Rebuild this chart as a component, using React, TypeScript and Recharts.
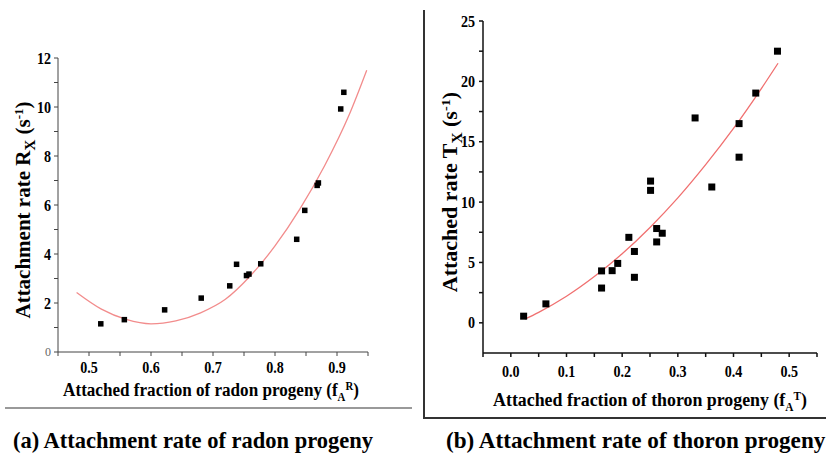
import React from "react";
import { ComposedChart, Scatter, Line, XAxis, YAxis } from "recharts";

document.body.style.margin = "0";

// (a) radon progeny: measured points
const radonFraction = [0.519, 0.557, 0.622, 0.681, 0.727, 0.738, 0.754, 0.758, 0.777, 0.835, 0.848, 0.868, 0.87, 0.906, 0.911];
const radonRate = [1.15, 1.32, 1.72, 2.2, 2.7, 3.58, 3.12, 3.18, 3.6, 4.6, 5.78, 6.8, 6.9, 9.92, 10.6];
// (a) fitted curve
const radonFitX = [0.48, 0.52, 0.56, 0.6, 0.64, 0.68, 0.72, 0.76, 0.8, 0.84, 0.88, 0.92, 0.948];
const radonFitY = [2.43, 1.75, 1.33, 1.15, 1.27, 1.6, 2.15, 3.1, 4.33, 5.83, 7.6, 9.7, 11.5];
const radonXTicks = [0.45, 0.5, 0.55, 0.6, 0.65, 0.7, 0.75, 0.8, 0.85, 0.9, 0.95];
const radonYTicks = [0, 1, 2, 3, 4, 5, 6, 7, 8, 9, 10, 11, 12];

// (b) thoron progeny: measured points
const thoronFraction = [0.023, 0.063, 0.163, 0.163, 0.182, 0.192, 0.212, 0.222, 0.222, 0.251, 0.251, 0.262, 0.262, 0.272, 0.331, 0.361, 0.41, 0.41, 0.44, 0.479];
const thoronRate = [0.55, 1.57, 4.3, 2.88, 4.32, 4.92, 7.08, 5.91, 3.77, 11.74, 10.97, 7.81, 6.7, 7.42, 16.97, 11.25, 16.5, 13.72, 19.03, 22.5];
// (b) fitted curve
const thoronFitX = [0.025, 0.05, 0.1, 0.15, 0.2, 0.25, 0.3, 0.35, 0.4, 0.45, 0.48];
const thoronFitY = [0.3, 0.87, 2.2, 3.83, 5.72, 7.9, 10.35, 13.1, 16.1, 19.4, 21.5];
const thoronXTicks = [-0.05, 0, 0.05, 0.1, 0.15, 0.2, 0.25, 0.3, 0.35, 0.4, 0.45, 0.5, 0.55];
const thoronYTicks = [0, 2.5, 5, 7.5, 10, 12.5, 15, 17.5, 20, 22.5, 25];

const FONT = "'Liberation Serif', 'Times New Roman', serif";

const zip = (xs: number[], ys: number[]) => xs.map((x, i) => ({ x, y: ys[i] }));

const isStep = (v: number, step: number) => Math.abs(v / step - Math.round(v / step)) < 1e-6;

// bold serif text, squeezed/stretched along its baseline by sx
function Txt({ x, y, size, sx = 1, rotate = 0, anchor = "middle", children }: any) {
  return (
    <g transform={`translate(${x} ${y}) rotate(${rotate}) scale(${sx} 1)`}>
      <text x={0} y={0} textAnchor={anchor} fontFamily={FONT} fontWeight="bold" fontSize={size} fill="#000">
        {children}
      </text>
    </g>
  );
}

const xTick = (step: number) => (props: any) => {
  const { x, y, payload } = props;
  if (!isStep(payload.value, step)) return <g />;
  return (
    <Txt x={x} y={y + 14} size={16} sx={0.88}>
      {payload.value.toFixed(1)}
    </Txt>
  );
};

const yTick = (step: number, plainZero = false) => (props: any) => {
  const { x, y, payload } = props;
  if (!isStep(payload.value, step)) return <g />;
  if (plainZero && payload.value === 0) {
    return (
      <text x={x} y={y} dy="0.36em" textAnchor="end" fontFamily={FONT} fontSize={12} fill="#666">
        0
      </text>
    );
  }
  return (
    <Txt x={x} y={y + 5.5} size={16} sx={0.88} anchor="end">
      {payload.value}
    </Txt>
  );
};

const square = (s: number) => (props: any) => (
  <rect x={props.cx - s / 2} y={props.cy - s / 2} width={s} height={s} fill="#000" />
);

export default function App() {
  const radonPts = zip(radonFraction, radonRate);
  const radonFit = zip(radonFitX, radonFitY);
  const thoronPts = zip(thoronFraction, thoronRate);
  const thoronFit = zip(thoronFitX, thoronFitY);

  return (
    <div style={{ position: "relative", width: 826, height: 459, background: "#fff", overflow: "hidden" }}>
      {/* (a) radon */}
      <div style={{ position: "absolute", left: 0, top: 0 }}>
        <ComposedChart width={420} height={400} margin={{ top: 58, right: 52, bottom: 28, left: 28 }}>
          <XAxis
            type="number"
            dataKey="x"
            domain={[0.45, 0.95]}
            ticks={radonXTicks}
            interval={0}
            height={20}
            stroke="#444"
            tickSize={4}
            tickMargin={3}
            tick={xTick(0.1)}
          />
          <YAxis
            type="number"
            dataKey="y"
            domain={[0, 12]}
            ticks={radonYTicks}
            interval={0}
            width={30}
            stroke="#444"
            tickSize={4}
            tickMargin={3}
            tick={yTick(2, true)}
          />
          <Line data={radonFit} dataKey="y" type="monotone" stroke="#f28c8c" strokeWidth={1.3} dot={false} isAnimationActive={false} />
          <Scatter data={radonPts} dataKey="y" shape={square(5.5)} isAnimationActive={false} />
        </ComposedChart>
      </div>

      {/* (b) thoron */}
      <div style={{ position: "absolute", left: 424, top: 0 }}>
        <ComposedChart width={402} height={420} margin={{ top: 21, right: 9, bottom: 42, left: 29 }}>
          <XAxis
            type="number"
            dataKey="x"
            domain={[-0.05, 0.55]}
            ticks={thoronXTicks}
            interval={0}
            height={25}
            stroke="#111"
            strokeWidth={1.5}
            tickSize={4}
            tickMargin={6}
            tick={xTick(0.1)}
          />
          <YAxis
            type="number"
            dataKey="y"
            domain={[-2.5, 25]}
            ticks={thoronYTicks}
            interval={0}
            width={30}
            stroke="#111"
            strokeWidth={1.5}
            tickSize={4}
            tickMargin={4}
            tick={yTick(5)}
          />
          <Line data={thoronFit} dataKey="y" type="monotone" stroke="#f07070" strokeWidth={1.3} dot={false} isAnimationActive={false} />
          <Scatter data={thoronPts} dataKey="y" shape={square(7)} isAnimationActive={false} />
        </ComposedChart>
      </div>

      {/* axis titles, captions and frame */}
      <svg width={826} height={459} style={{ position: "absolute", left: 0, top: 0, pointerEvents: "none" }}>
        <Txt x={30} y={210} size={21} sx={1.0} rotate={-90}>
          Attachment rate R<tspan dy={5} fontSize={15}>X</tspan>
          <tspan dy={-5}> (s</tspan>
          <tspan dy={-7} fontSize={13}>-1</tspan>
          <tspan dy={7}>)</tspan>
        </Txt>
        <Txt x={211} y={396} size={19} sx={0.9}>
          Attached fraction of radon progeny (f<tspan dy={5} fontSize={12}>A</tspan>
          <tspan dy={-11} fontSize={12}>R</tspan>
          <tspan dy={6}>)</tspan>
        </Txt>
        <Txt x={457} y={192} size={20} sx={1.1} rotate={-90}>
          Attached rate T<tspan dy={5} fontSize={14}>X</tspan>
          <tspan dy={-5}> (s</tspan>
          <tspan dy={-7} fontSize={13}>-1</tspan>
          <tspan dy={7}>)</tspan>
        </Txt>
        <Txt x={650} y={406} size={19} sx={0.94}>
          Attached fraction of thoron progeny (f<tspan dy={5} fontSize={12}>A</tspan>
          <tspan dy={-11} fontSize={12}>T</tspan>
          <tspan dy={6}>)</tspan>
        </Txt>
        <Txt x={193} y={448} size={22.5}>
          (a) Attachment rate of radon progeny
        </Txt>
        <Txt x={446} y={448} size={22.5} sx={1.03} anchor="start">
          (b) Attachment rate of thoron progeny
        </Txt>
        <line x1={5} y1={408} x2={412} y2={408} stroke="#999" strokeWidth={2} />
        <polyline points="424,10 424,418 826,418" fill="none" stroke="#333" strokeWidth={2} />
      </svg>
    </div>
  );
}
